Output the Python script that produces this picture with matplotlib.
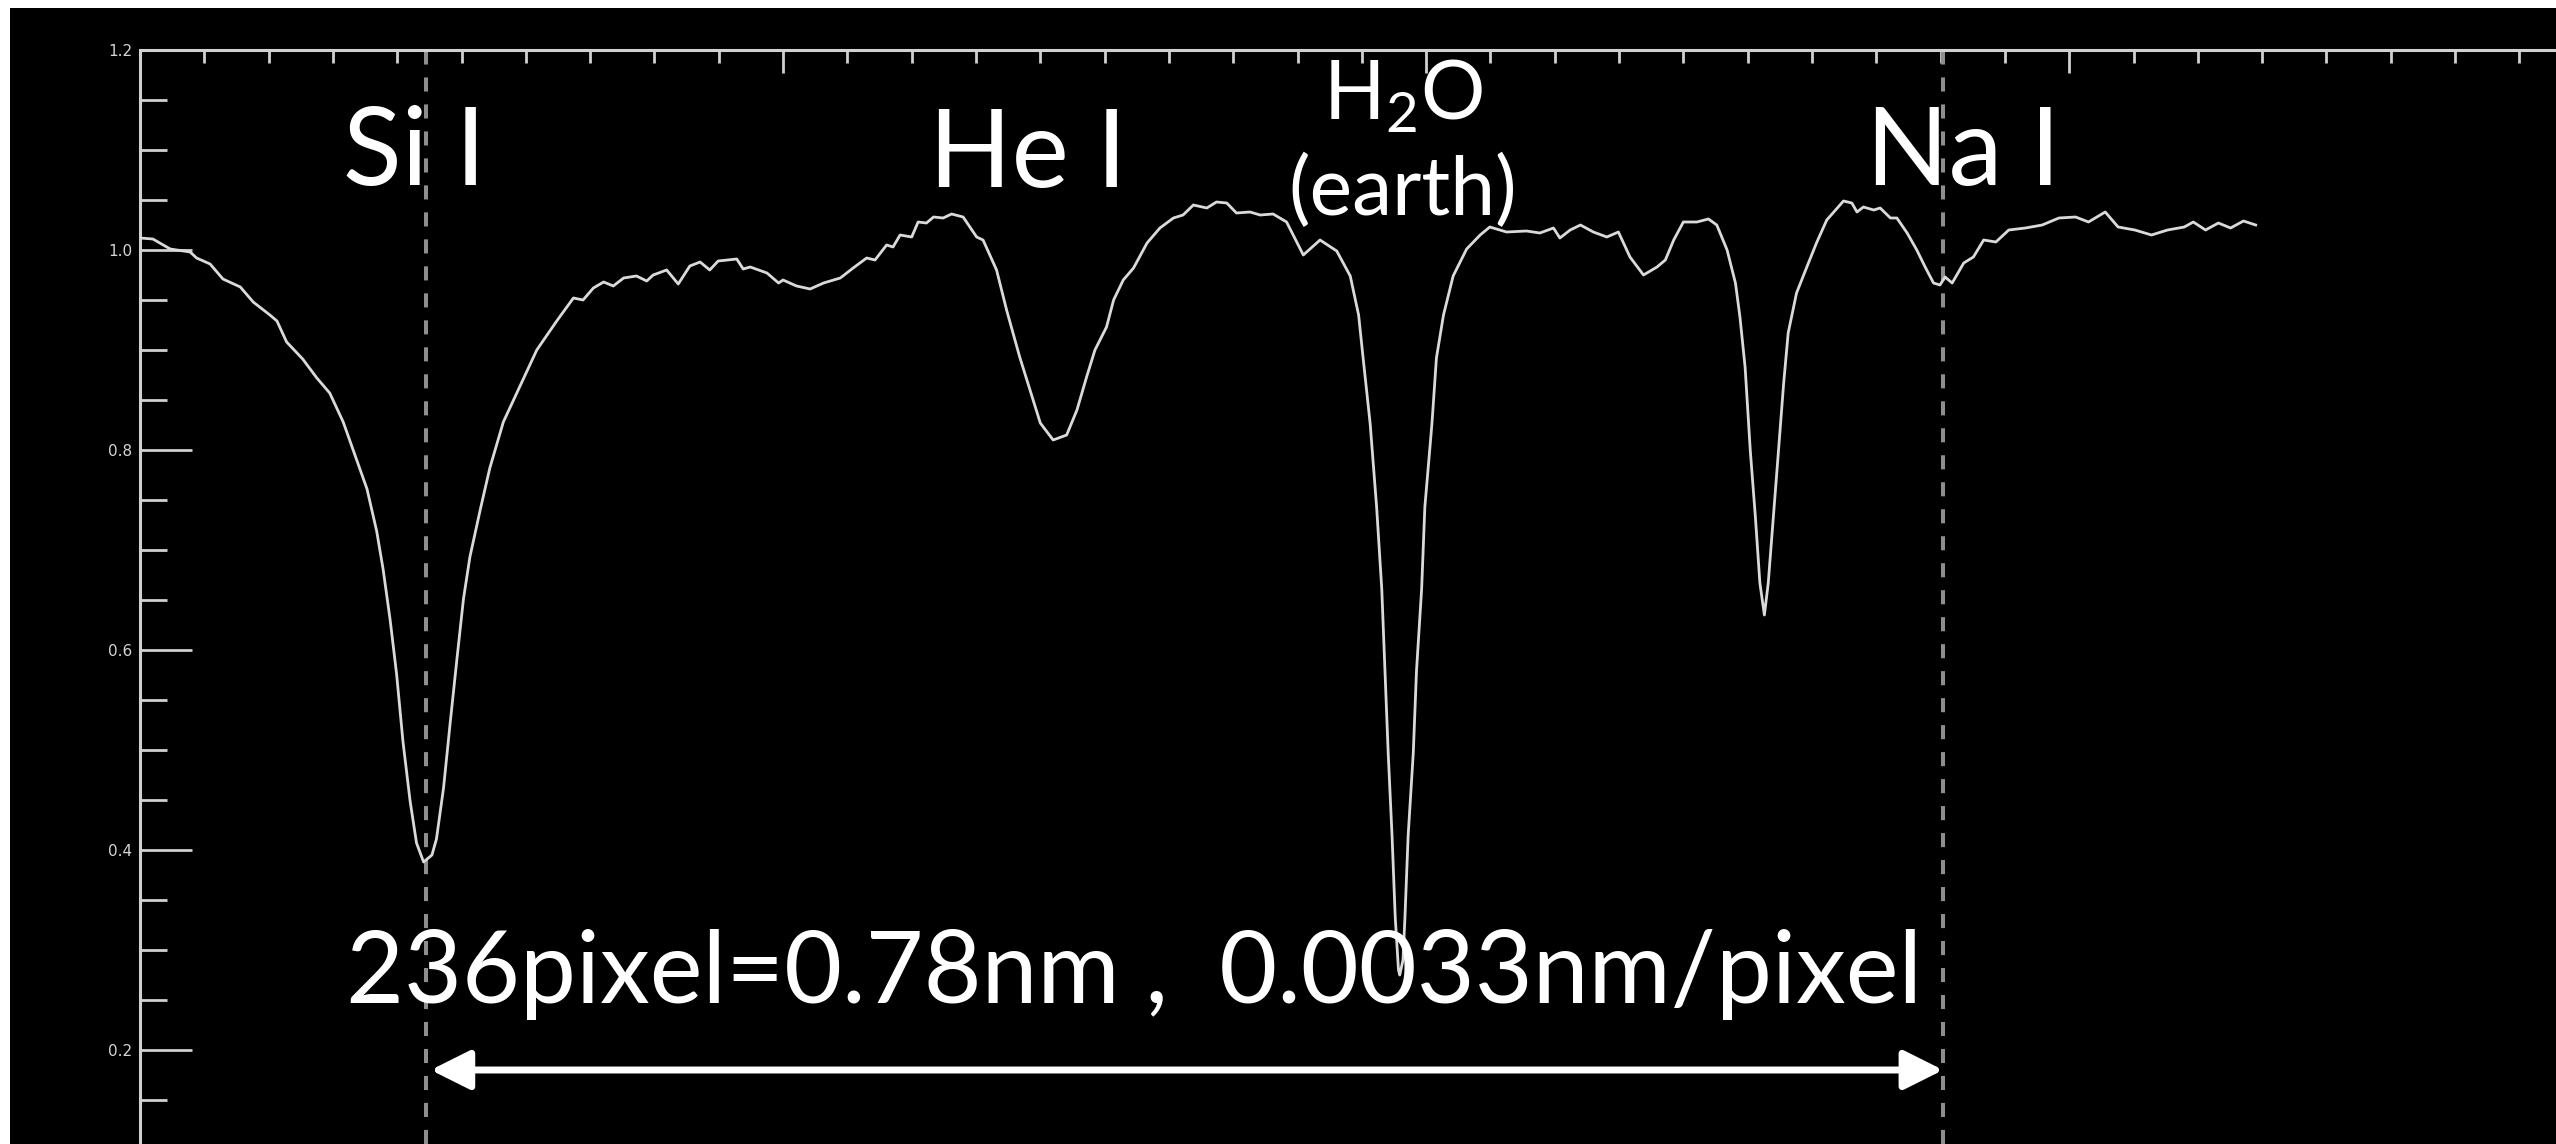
import matplotlib.pyplot as plt
from matplotlib.patches import Rectangle
from matplotlib.ticker import MultipleLocator, FormatStrFormatter

plt.rcParams['font.family'] = ['Lato', 'DejaVu Sans']
plt.rcParams['mathtext.fontset'] = 'custom'
plt.rcParams['mathtext.rm'] = 'Lato'

# detector pixel vs. normalised intensity
pixel = [0.0, 2.0, 4.7, 7.8, 8.8, 10.9, 12.9, 15.6, 17.6, 20.2, 21.3, 22.8, 25.3,
         27.5, 29.5, 31.6, 33.7, 35.3, 36.8, 37.8, 38.9, 39.9, 40.9, 42.0, 43.0,
         44.1, 45.4, 46.1, 47.2, 48.2, 49.3, 50.3, 51.3, 52.9, 54.4, 56.5, 58.6,
         61.7, 64.8, 67.4, 68.9, 70.5, 72.1, 73.6, 75.2, 77.2, 78.8, 79.8, 81.9,
         83.7, 85.5, 87.1, 88.6, 89.9, 92.8, 93.8, 94.9, 97.5, 99.3, 100.0, 102.1,
         104.2, 106.3, 108.9, 110.9, 113.0, 114.3, 116.1, 117.1, 118.2, 120.0,
         121.0, 122.3, 123.4, 124.9, 126.2, 128.0, 130.1, 131.1, 133.2, 134.8,
         136.8, 138.4, 140.0, 142.0, 144.1, 145.7, 147.2, 148.5, 150.3, 151.4,
         152.9, 154.5, 156.6, 158.6, 160.7, 162.2, 163.8, 165.9, 167.4, 169.0,
         170.5, 172.6, 174.2, 176.2, 178.3, 180.9, 183.5, 186.1, 188.2, 189.5,
         190.2, 191.3, 192.3, 193.1, 193.6, 194.1, 194.7, 195.2, 195.7, 195.9,
         196.4, 196.7, 197.2, 198.0, 198.5, 199.3, 199.8, 200.9, 201.6, 202.7,
         204.2, 206.3, 208.4, 209.9, 212.5, 215.6, 217.7, 219.8, 220.8, 222.4,
         224.0, 226.0, 228.1, 229.9, 231.7, 233.8, 235.9, 237.2, 238.5, 240.0,
         242.1, 243.9, 245.2, 246.8, 248.1, 248.8, 249.6, 250.4, 251.2, 251.9,
         252.6, 253.2, 254.0, 254.8, 255.6, 256.3, 257.6, 259.2, 260.7, 262.3,
         264.9, 266.2, 267.0, 268.0, 269.6, 270.6, 272.2, 273.2, 274.8, 276.3,
         277.6, 278.9, 279.9, 280.7, 281.8, 283.6, 285.1, 286.7, 288.6, 290.6,
         293.2, 295.8, 298.4, 301.0, 303.0, 305.6, 307.6, 310.2, 312.8, 315.3,
         317.9, 319.3, 321.2, 323.2, 325.1, 327.1, 329.0]
intensity = [1.012, 1.011, 1.001, 0.998, 0.992, 0.986, 0.971, 0.963, 0.948, 0.935,
             0.929, 0.908, 0.891, 0.872, 0.857, 0.828, 0.790, 0.761, 0.719, 0.681,
             0.630, 0.576, 0.508, 0.449, 0.407, 0.388, 0.395, 0.411, 0.462, 0.525,
             0.592, 0.651, 0.693, 0.740, 0.782, 0.828, 0.857, 0.900, 0.929, 0.952,
             0.950, 0.962, 0.968, 0.964, 0.972, 0.974, 0.969, 0.975, 0.980, 0.966,
             0.984, 0.988, 0.980, 0.989, 0.991, 0.981, 0.983, 0.977, 0.967, 0.970,
             0.964, 0.961, 0.967, 0.972, 0.982, 0.992, 0.990, 1.005, 1.003, 1.015,
             1.013, 1.028, 1.027, 1.033, 1.032, 1.036, 1.033, 1.013, 1.010, 0.980,
             0.939, 0.893, 0.860, 0.827, 0.810, 0.815, 0.840, 0.873, 0.900, 0.923,
             0.950, 0.970, 0.982, 1.007, 1.022, 1.032, 1.035, 1.045, 1.042, 1.048,
             1.047, 1.037, 1.038, 1.035, 1.036, 1.028, 0.995, 1.010, 0.999, 0.974,
             0.935, 0.892, 0.826, 0.743, 0.661, 0.579, 0.497, 0.414, 0.332, 0.280,
             0.275, 0.290, 0.332, 0.414, 0.497, 0.579, 0.661, 0.743, 0.826, 0.892,
             0.935, 0.974, 1.001, 1.015, 1.023, 1.018, 1.019, 1.017, 1.022, 1.012,
             1.020, 1.025, 1.018, 1.013, 1.018, 0.993, 0.975, 0.983, 0.990, 1.010,
             1.028, 1.028, 1.031, 1.025, 1.000, 0.967, 0.933, 0.883, 0.800, 0.733,
             0.667, 0.635, 0.667, 0.733, 0.800, 0.867, 0.917, 0.957, 0.983, 1.007,
             1.030, 1.049, 1.047, 1.038, 1.043, 1.040, 1.042, 1.032, 1.032, 1.017,
             1.000, 0.983, 0.967, 0.965, 0.973, 0.967, 0.987, 0.993, 1.010, 1.008,
             1.020, 1.022, 1.025, 1.032, 1.033, 1.028, 1.038, 1.023, 1.020, 1.015,
             1.020, 1.023, 1.028, 1.020, 1.027, 1.022, 1.029, 1.025]

# reference lines (pixel) and the known wavelength gap between them
si_pixel = 44.4
na_pixel = 280.4
gap_nm = 0.78

W, H = 2556, 1144
fig = plt.figure(figsize=(W / 100, H / 100), dpi=100, facecolor='white')
fig.add_artist(Rectangle((10 / W, 0), 1, 1 - 8 / H, transform=fig.transFigure,
                         facecolor='black', edgecolor='none', zorder=0))

ax = fig.add_axes([140 / W, 0, 1 - 140 / W, 1 - 50 / H])
ax.set_facecolor('black')
ax.set_xlim(0, 375.7)
ax.set_ylim(0.106, 1.2)

axis_col = '#d0d0d0'
for side in ('bottom', 'right'):
    ax.spines[side].set_visible(False)
for side in ('top', 'left'):
    ax.spines[side].set_color(axis_col)
    ax.spines[side].set_linewidth(2.2)

ax.xaxis.set_ticks_position('top')
ax.xaxis.set_major_locator(MultipleLocator(100))
ax.xaxis.set_minor_locator(MultipleLocator(10))
ax.tick_params(axis='x', which='both', direction='in', color=axis_col, width=2.0,
               labeltop=False, labelbottom=False)
ax.tick_params(axis='x', which='major', length=16.5)
ax.tick_params(axis='x', which='minor', length=9.4)

ax.yaxis.set_major_locator(MultipleLocator(0.2))
ax.yaxis.set_minor_locator(MultipleLocator(0.05))
ax.yaxis.set_major_formatter(FormatStrFormatter('%.1f'))
ax.tick_params(axis='y', which='both', direction='in', color=axis_col, width=2.0,
               labelcolor='#d4d4d4', labelsize=11, pad=5.5)
ax.tick_params(axis='y', which='major', length=37.4)
ax.tick_params(axis='y', which='minor', length=19.4)
for lab in ax.get_yticklabels():
    lab.set_family('DejaVu Sans')

ax.plot(pixel, intensity, color='#dadada', lw=2.0, zorder=3)

for xp in (si_pixel, na_pixel):
    ax.axvline(xp, color='#8e8e8e', lw=2.9, dashes=(3.5, 3.2), zorder=2)

txt = dict(color='white', ha='center', va='baseline', zorder=5)
ax.text(42.6, 1.065, 'Si I', fontsize=78, **txt)
ax.text(138.1, 1.063, 'He I', fontsize=78, **txt)
ax.text(283.5, 1.065, 'Na I', fontsize=78, **txt)
ax.text(196.4, 1.13, r'H$_\mathregular{2}$O', fontsize=58, **txt)
ax.text(196.4, 1.035, '(earth)', fontsize=58, **txt)

n_pix = na_pixel - si_pixel
ax.text(154.6, 0.247, f'{n_pix:.0f}pixel={gap_nm}nm ,  {gap_nm / n_pix:.4f}nm/pixel',
        fontsize=72, **txt)

ax.annotate('', xy=(si_pixel + 0.8, 0.18), xytext=(na_pixel, 0.18),
            arrowprops=dict(arrowstyle='<|-|>,head_length=1.2,head_width=0.6',
                            color='white', lw=5, mutation_scale=20,
                            shrinkA=0, shrinkB=0),
            zorder=5)

fig.savefig('out.png', dpi=100, facecolor=fig.get_facecolor())
